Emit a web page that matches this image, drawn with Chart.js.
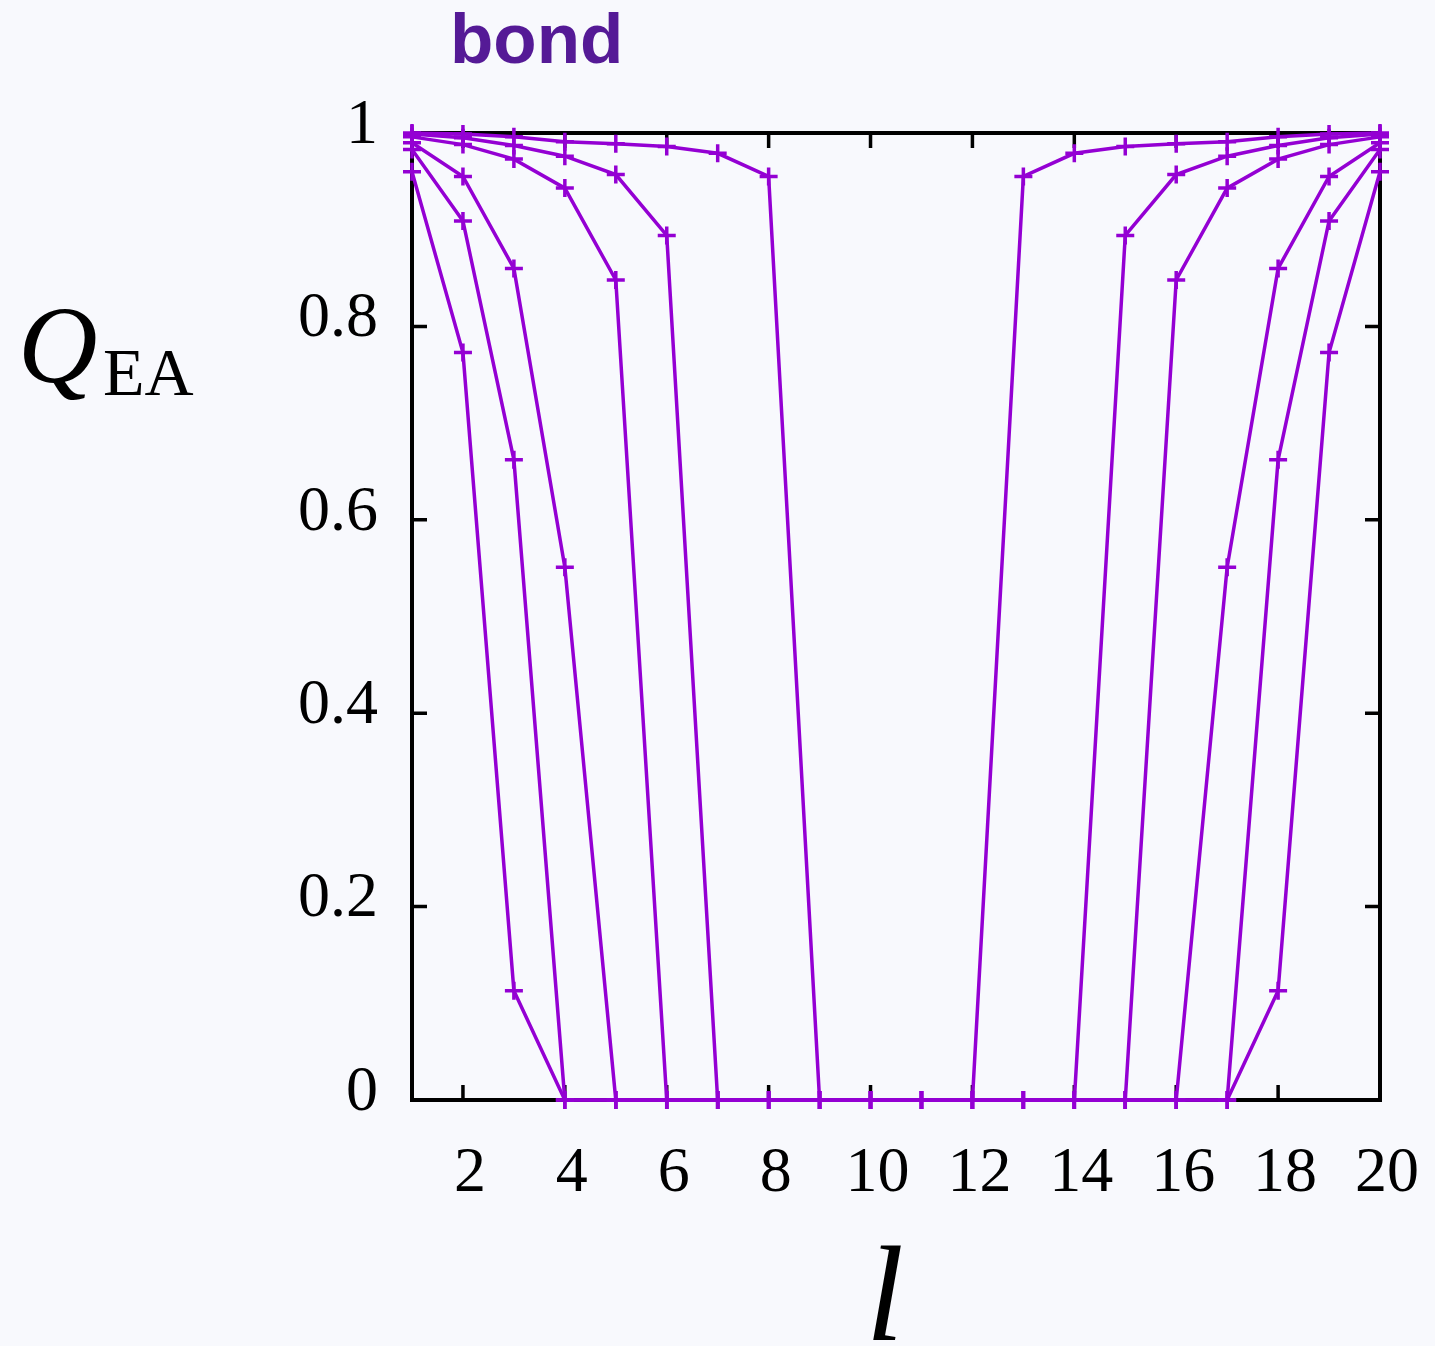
<!DOCTYPE html>
<html>
<head>
<meta charset="utf-8">
<script src="https://cdn.jsdelivr.net/npm/chart.js@4.4.1/dist/chart.umd.min.js"></script>
<style>
  html, body { margin: 0; padding: 0; background: #f8f9fd; }
  #wrap { position: relative; width: 1435px; height: 1346px; overflow: hidden; }
  canvas { position: absolute; left: 0; top: 0; }
  .lbl { position: absolute; white-space: nowrap; line-height: 1; }
</style>
</head>
<body>
<div id="wrap">
  <canvas id="c" width="1435" height="1346" style="width:1435px;height:1346px"></canvas>
  <div class="lbl" id="title" style="left:450px; top:3px; font-family:'Liberation Sans',Arial,sans-serif; font-weight:bold; font-size:71px; color:#551a96;">bond</div>
  <div class="lbl" id="yq" style="left:18px; top:290px; font-family:'Liberation Serif','Times New Roman',serif; font-style:italic; font-size:110px; color:#000;">Q</div>
  <div class="lbl" id="yea" style="left:103px; top:338px; font-family:'Liberation Serif','Times New Roman',serif; font-size:68px; color:#000;">EA</div>
  <div class="lbl" id="xl" style="left:785px; width:200px; text-align:center; top:1226px; font-family:'Liberation Serif','Times New Roman',serif; font-style:italic; font-size:136px; color:#000;">l</div>
</div>
<script>
// ---- data ----
const xs = [1,2,3,4,5,6,7,8,9,10,11,12,13,14,15,16,17,18,19,20];
const s1 = [0.960,0.773,0.113,0,0,0,0,0,0,0,0,0,0,0,0,0,0,0.113,0.773,0.960];
const s2 = [0.983,0.909,0.662,0,0,0,0,0,0,0,0,0,0,0,0,0,0,0.662,0.909,0.983];
const s3 = [0.990,0.955,0.860,0.551,0,0,0,0,0,0,0,0,0,0,0,0,0.551,0.860,0.955,0.990];
const s4 = [0.996,0.988,0.973,0.943,0.848,0,0,0,0,0,0,0,0,0,0,0.848,0.943,0.973,0.988,0.996];
const s5 = [0.999,0.995,0.987,0.976,0.957,0.894,0,0,0,0,0,0,0,0,0.894,0.957,0.976,0.987,0.995,0.999];
const s6 = [1.000,0.999,0.996,0.991,0.989,0.986,0.979,0.955,0,0,0,0,0.955,0.979,0.986,0.989,0.991,0.996,0.999,1.000];
const xTicks = [2,4,6,8,10,12,14,16,18,20];
const yTicks = [0,0.2,0.4,0.6,0.8,1];
const yTickLabels = ['0','0.2','0.4','0.6','0.8','1'];

const seriesList = [s1, s2, s3, s4, s5, s6];
const COLOR = '#9400d3';

const datasets = seriesList.map(s => ({
  data: xs.map((x, i) => ({x: x, y: s[i]})),
  borderColor: COLOR,
  backgroundColor: COLOR,
  borderWidth: 3.5,
  pointStyle: 'cross',
  pointRadius: 9,
  pointHoverRadius: 9,
  pointBorderWidth: 3.5,
  pointBorderColor: COLOR,
  tension: 0,
  clip: false
}));

const frameTicks = {
  id: 'frameTicks',
  beforeDatasetsDraw(chart) {
    const {ctx, chartArea: a, scales} = chart;
    ctx.save();
    ctx.strokeStyle = '#000';
    ctx.lineWidth = 3.5;
    ctx.lineCap = 'butt';
    const L = 15;
    ctx.beginPath();
    xTicks.forEach(v => {
      const px = scales.x.getPixelForValue(v);
      ctx.moveTo(px, a.bottom); ctx.lineTo(px, a.bottom - L);
      ctx.moveTo(px, a.top); ctx.lineTo(px, a.top + L);
    });
    yTicks.forEach(v => {
      const py = scales.y.getPixelForValue(v);
      ctx.moveTo(a.left, py); ctx.lineTo(a.left + L, py);
      ctx.moveTo(a.right, py); ctx.lineTo(a.right - L, py);
    });
    ctx.stroke();
    ctx.lineWidth = 4;
    ctx.strokeRect(a.left, a.top, a.right - a.left, a.bottom - a.top);
    ctx.restore();
  }
};

new Chart(document.getElementById('c'), {
  type: 'line',
  data: { datasets },
  plugins: [frameTicks],
  options: {
    responsive: false,
    animation: false,
    layout: { padding: { top: 133, right: 55, left: 0, bottom: 0 } },
    plugins: { legend: { display: false }, tooltip: { enabled: false }, title: { display: false } },
    scales: {
      x: {
        type: 'linear', min: 1, max: 20,
        afterBuildTicks: s => { s.ticks = xTicks.map(v => ({value: v})); },
        afterFit: s => { s.height = 246; s.paddingLeft = 0; s.paddingRight = 0; },
        grid: { display: false, drawTicks: false },
        border: { display: false },
        ticks: {
          color: '#000', padding: 36, labelOffset: 7, maxRotation: 0, autoSkip: false,
          font: { family: "'Liberation Serif', 'Times New Roman', serif", size: 64 }
        }
      },
      y: {
        type: 'linear', min: 0, max: 1,
        afterBuildTicks: s => { s.ticks = yTicks.map(v => ({value: v})); },
        afterFit: s => { s.width = 412; s.paddingTop = 0; s.paddingBottom = 0; },
        grid: { display: false, drawTicks: false },
        border: { display: false },
        ticks: {
          color: '#000', padding: 34, labelOffset: -7, autoSkip: false,
          callback: (v) => { const i = yTicks.indexOf(v); return i >= 0 ? yTickLabels[i] : ''; },
          font: { family: "'Liberation Serif', 'Times New Roman', serif", size: 64 }
        }
      }
    }
  }
});
</script>
</body>
</html>
